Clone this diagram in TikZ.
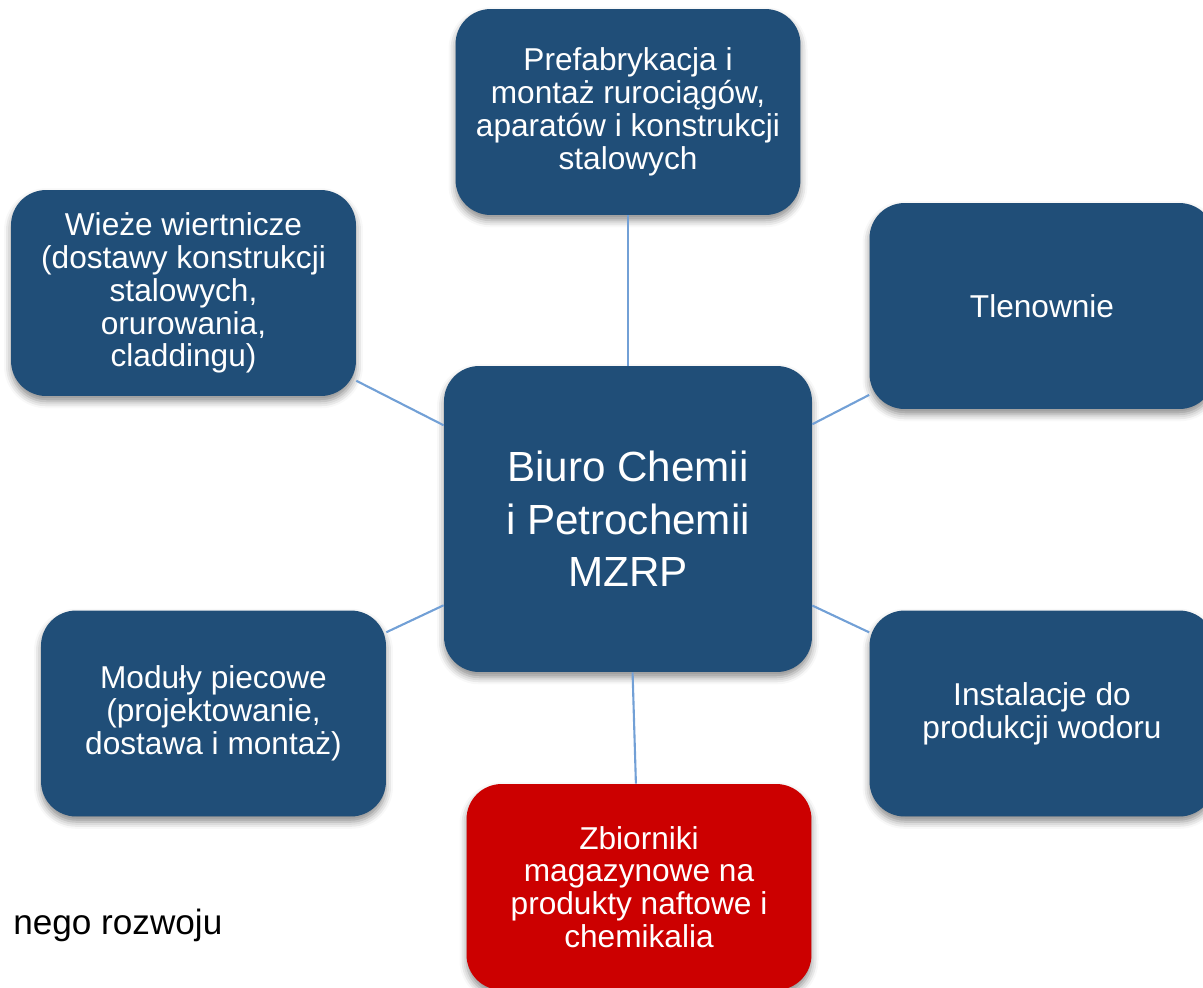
\documentclass[tikz,border=0pt]{standalone}
\usepackage{fontspec}
\setmainfont{Liberation Sans}
\usepackage{tikz}
\usetikzlibrary{shapes,shadows.blur}

\definecolor{boxblue}{RGB}{32,78,120}
\definecolor{boxred}{RGB}{204,0,0}
\definecolor{linkblue}{RGB}{114,160,214}

\tikzset{
	box/.style={rectangle, rounded corners=20pt, fill=boxblue, text=white, align=center,
		minimum width=6.9cm, minimum height=4.12cm, inner sep=2pt,
		font=\fontsize{18}{18.7}\selectfont,
		blur shadow={shadow xshift=0pt, shadow yshift=-3pt, shadow blur radius=4pt, shadow opacity=45}},
	hub/.style={box, minimum width=7.36cm, minimum height=6.12cm, font=\fontsize{24}{30}\selectfont},
	link/.style={draw=linkblue, line width=1.2pt}
}

\begin{document}
\begin{tikzpicture}[x=0.02cm, y=-0.02cm]
\useasboundingbox (0,0) rectangle (1203,987);

\node [hub] (biuro) at (628,519) {Biuro Chemii\\i Petrochemii\\MZRP};

\node [box] (prefab) at (628,112) {Prefabrykacja i\\montaż rurociągów,\\aparatów i konstrukcji\\stalowych};
\node [box] (wieze) at (183.5,293) {Wieże wiertnicze\\(dostawy konstrukcji\\stalowych,\\orurowania,\\claddingu)};
\node [box] (tlen) at (1042,306) {Tlenownie};
\node [box] (moduly) at (213.5,713.5) {Moduły piecowe\\(projektowanie,\\dostawa i montaż)};
\node [box] (wodor) at (1042,713.5) {Instalacje do\\produkcji wodoru};
\node [box, fill=boxred] (zbiorniki) at (639,887) {Zbiorniki\\magazynowe na\\produkty naftowe i\\chemikalia};

\foreach \Box in {prefab, wieze, tlen, moduly, wodor, zbiorniki}{
	\draw [link] (\Box) -- (biuro);
}

\node [anchor=base west, inner sep=0pt, font=\fontsize{20}{24}\selectfont] (rozwoj) at (13,934) {nego rozwoju};
\end{tikzpicture}
\end{document}
